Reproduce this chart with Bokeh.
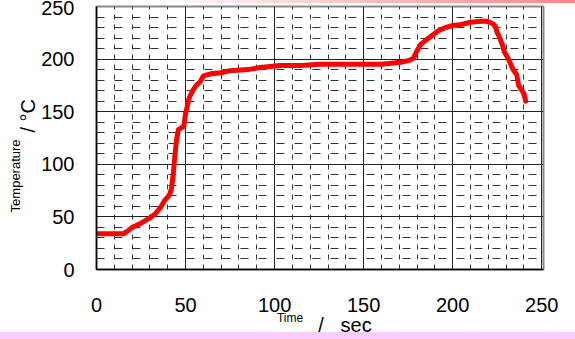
from bokeh.plotting import figure
from bokeh.models import SingleIntervalTicker, FixedTicker, LinearAxis, Range1d
from bokeh.embed import file_html
from bokeh.resources import INLINE

# data
time_s = [0, 5, 10, 15, 17, 20, 25, 30, 33, 36, 38, 41, 42, 43, 44, 45, 46, 48, 49, 50,
          52, 54, 56, 58, 60, 64, 70, 75, 85, 92, 103, 115, 125, 131, 140, 148, 160, 171,
          176, 178, 180, 182, 185, 188, 192, 196, 200, 205, 210, 216, 219, 221, 223, 224,
          225, 226, 228, 229, 231, 234, 236, 237, 239, 240, 241]
temp_c = [34, 34, 34, 34, 36, 40, 44, 49, 53, 59, 65, 71, 76, 89, 108, 124, 133, 135, 136, 148,
          163, 170, 175, 178, 184, 186, 187, 189, 190, 192, 194, 194, 195, 195, 195, 195, 195, 197,
          199, 201, 208, 214, 218, 222, 227, 230, 232, 233, 235, 236, 236, 235, 233, 231,
          225, 222, 213, 207, 201, 190, 185, 175, 170, 167, 160]

x_ticks_step = 50
y_ticks_step = 50

NB = "\u00a0"
x_small_label = "Time"
x_big_label = "/" + NB * 3 + "sec"
y_small_label = "Temperature"
y_big_label = "/ °C"

p = figure(width=575, height=339, output_backend="svg", toolbar_location=None,
           x_range=Range1d(0, 251), y_range=Range1d(0, 250),
           min_border_left=96, min_border_right=32, min_border_top=6, min_border_bottom=70)
p.background_fill_color = "white"
p.border_fill_alpha = 0.0
p.styles = {
    "background": ("linear-gradient(to right, #ffffff 26%, #ff8585 100%) top / 100% 3px no-repeat, "
                   "linear-gradient(#fccdfc, #fccdfc) bottom / 100% 7px no-repeat, #ffffff"),
}
p.outline_line_color = "#888888"
p.outline_line_width = 2

p.xaxis.ticker = SingleIntervalTicker(interval=x_ticks_step, num_minor_ticks=5)
p.yaxis.ticker = SingleIntervalTicker(interval=y_ticks_step, num_minor_ticks=5)

for ax in (p.xaxis, p.yaxis):
    ax.major_tick_line_color = None
    ax.minor_tick_line_color = None
    ax.axis_line_color = "black"
    ax.axis_line_width = 1.5
    ax.major_label_text_font = "Liberation Sans"
    ax.major_label_text_font_size = "20px"
    ax.major_label_text_color = "black"
    ax.axis_label_text_font = "Liberation Sans"
    ax.axis_label_text_font_style = "normal"
    ax.axis_label_text_color = "black"

p.xaxis.major_label_standoff = 22
p.yaxis.major_label_standoff = 16
p.yaxis.major_label_text_baseline = "top"

# x titles: small "Time" on the main axis, "/ sec" on a second axis pulled up
p.xaxis.axis_label = x_small_label + NB * 18
p.xaxis.axis_label_text_font_size = "12px"
p.xaxis.axis_label_standoff = -4

ax2 = LinearAxis(ticker=FixedTicker(ticks=[]), axis_line_color=None,
                 major_tick_line_color=None, minor_tick_line_color=None,
                 axis_label=NB * 9 + x_big_label, axis_label_standoff=-14,
                 axis_label_text_font="Liberation Sans", axis_label_text_font_size="20px",
                 axis_label_text_font_style="normal", axis_label_text_color="black")
p.add_layout(ax2, "below")

# y titles: "/ °C" on main axis, small "Temperature" on a second axis further left
p.yaxis.axis_label = NB * 8 + y_big_label
p.yaxis.axis_label_text_font_size = "20px"
p.yaxis.axis_label_standoff = -1

ay2 = LinearAxis(ticker=FixedTicker(ticks=[]), axis_line_color=None,
                 major_tick_line_color=None, minor_tick_line_color=None,
                 axis_label=y_small_label + NB * 21, axis_label_standoff=-8,
                 axis_label_text_font="Liberation Sans", axis_label_text_font_size="13px",
                 axis_label_text_font_style="normal", axis_label_text_color="black")
p.add_layout(ay2, "left")

for g in (p.xgrid, p.ygrid):
    g.grid_line_color = "#222222"
    g.grid_line_width = 1
    g.minor_grid_line_color = "#333333"
    g.minor_grid_line_width = 1
p.xgrid.minor_grid_line_dash = "5 5"
p.ygrid.minor_grid_line_dash = "8 10"

p.line(time_s, temp_c, line_color="#ff0000", line_width=5, line_join="round", line_cap="round")

open("out.html", "w").write(file_html(p, INLINE))
